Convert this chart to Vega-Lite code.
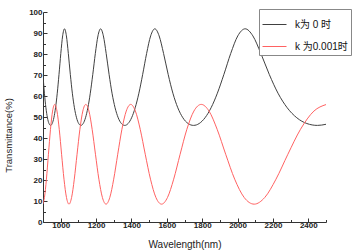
{
  "$schema": "https://vega.github.io/schema/vega-lite/v6.json",
  "width": 283,
  "height": 210,
  "autosize": {"type": "none"},
  "padding": {"left": 43, "top": 12, "right": 34, "bottom": 30},
  "background": "white",
  "config": {
    "view": {"stroke": null},
    "font": "Liberation Sans",
    "axis": {
      "grid": false,
      "domainColor": "#333333",
      "tickColor": "#333333",
      "domainWidth": 1,
      "tickWidth": 1,
      "labelColor": "#222222",
      "titleColor": "#222222",
      "labelFont": "Liberation Sans",
      "titleFont": "Liberation Sans",
      "labelFontSize": 8,
      "labelFontWeight": "bold",
      "titleFontSize": 10,
      "titleFontWeight": "normal"
    }
  },
  "data": {
    "values": [
      {"s": "k0", "wl": 900, "T": 69.91}, {"s": "k0", "wl": 908, "T": 61.33}, {"s": "k0", "wl": 916.5, "T": 54.4}, {"s": "k0", "wl": 925.1, "T": 49.63}, {"s": "k0", "wl": 933.9, "T": 46.89}, {"s": "k0", "wl": 942.9, "T": 46}, {"s": "k0", "wl": 952.1, "T": 46.89}, {"s": "k0", "wl": 961.4, "T": 49.63}, {"s": "k0", "wl": 970.9, "T": 54.4}, {"s": "k0", "wl": 980.6, "T": 61.33}, {"s": "k0", "wl": 990.5, "T": 70.3}, {"s": "k0", "wl": 1000.7, "T": 80.25}, {"s": "k0", "wl": 1011, "T": 88.63}, {"s": "k0", "wl": 1021.5, "T": 92}, {"s": "k0", "wl": 1032.3, "T": 88.63}, {"s": "k0", "wl": 1043.2, "T": 80.25}, {"s": "k0", "wl": 1054.5, "T": 70.3}, {"s": "k0", "wl": 1065.9, "T": 61.33}, {"s": "k0", "wl": 1077.6, "T": 54.4}, {"s": "k0", "wl": 1089.6, "T": 49.63}, {"s": "k0", "wl": 1101.8, "T": 46.89}, {"s": "k0", "wl": 1114.4, "T": 46}, {"s": "k0", "wl": 1127.2, "T": 46.89}, {"s": "k0", "wl": 1140.3, "T": 49.63}, {"s": "k0", "wl": 1153.7, "T": 54.4}, {"s": "k0", "wl": 1167.4, "T": 61.33}, {"s": "k0", "wl": 1181.5, "T": 70.3}, {"s": "k0", "wl": 1195.9, "T": 80.25}, {"s": "k0", "wl": 1210.7, "T": 88.63}, {"s": "k0", "wl": 1225.8, "T": 92}, {"s": "k0", "wl": 1241.3, "T": 88.63}, {"s": "k0", "wl": 1257.2, "T": 80.25}, {"s": "k0", "wl": 1273.6, "T": 70.3}, {"s": "k0", "wl": 1290.3, "T": 61.33}, {"s": "k0", "wl": 1307.5, "T": 54.4}, {"s": "k0", "wl": 1325.2, "T": 49.63}, {"s": "k0", "wl": 1343.3, "T": 46.89}, {"s": "k0", "wl": 1362, "T": 46}, {"s": "k0", "wl": 1381.2, "T": 46.89}, {"s": "k0", "wl": 1400.9, "T": 49.63}, {"s": "k0", "wl": 1421.2, "T": 54.4}, {"s": "k0", "wl": 1442.1, "T": 61.33}, {"s": "k0", "wl": 1463.6, "T": 70.3}, {"s": "k0", "wl": 1485.8, "T": 80.25}, {"s": "k0", "wl": 1508.7, "T": 88.63}, {"s": "k0", "wl": 1532.3, "T": 92}, {"s": "k0", "wl": 1556.6, "T": 88.63}, {"s": "k0", "wl": 1581.7, "T": 80.25}, {"s": "k0", "wl": 1607.6, "T": 70.3}, {"s": "k0", "wl": 1634.4, "T": 61.33}, {"s": "k0", "wl": 1662.1, "T": 54.4}, {"s": "k0", "wl": 1690.8, "T": 49.63}, {"s": "k0", "wl": 1720.4, "T": 46.89}, {"s": "k0", "wl": 1751.1, "T": 46}, {"s": "k0", "wl": 1783, "T": 46.89}, {"s": "k0", "wl": 1816, "T": 49.63}, {"s": "k0", "wl": 1850.3, "T": 54.4}, {"s": "k0", "wl": 1885.8, "T": 61.33}, {"s": "k0", "wl": 1922.8, "T": 70.3}, {"s": "k0", "wl": 1961.3, "T": 80.25}, {"s": "k0", "wl": 2001.3, "T": 88.63}, {"s": "k0", "wl": 2043, "T": 92}, {"s": "k0", "wl": 2086.5, "T": 88.63}, {"s": "k0", "wl": 2131.8, "T": 80.25}, {"s": "k0", "wl": 2179.2, "T": 70.3}, {"s": "k0", "wl": 2228.7, "T": 61.33}, {"s": "k0", "wl": 2280.6, "T": 54.4}, {"s": "k0", "wl": 2334.9, "T": 49.63}, {"s": "k0", "wl": 2391.8, "T": 46.89}, {"s": "k0", "wl": 2451.6, "T": 46}, {"s": "k0", "wl": 2500, "T": 46.53},
      {"s": "k001", "wl": 900, "T": 8.69}, {"s": "k001", "wl": 908.2, "T": 11.68}, {"s": "k001", "wl": 919.3, "T": 20.38}, {"s": "k001", "wl": 930.7, "T": 32.25}, {"s": "k001", "wl": 942.3, "T": 44.13}, {"s": "k001", "wl": 954.2, "T": 52.82}, {"s": "k001", "wl": 966.5, "T": 56}, {"s": "k001", "wl": 979, "T": 52.82}, {"s": "k001", "wl": 991.9, "T": 44.13}, {"s": "k001", "wl": 1005.1, "T": 32.25}, {"s": "k001", "wl": 1018.7, "T": 20.38}, {"s": "k001", "wl": 1032.7, "T": 11.68}, {"s": "k001", "wl": 1047, "T": 8.5}, {"s": "k001", "wl": 1061.7, "T": 11.68}, {"s": "k001", "wl": 1076.9, "T": 20.38}, {"s": "k001", "wl": 1092.5, "T": 32.25}, {"s": "k001", "wl": 1108.6, "T": 44.13}, {"s": "k001", "wl": 1125.1, "T": 52.82}, {"s": "k001", "wl": 1142.2, "T": 56}, {"s": "k001", "wl": 1159.8, "T": 52.82}, {"s": "k001", "wl": 1177.9, "T": 44.13}, {"s": "k001", "wl": 1196.6, "T": 32.25}, {"s": "k001", "wl": 1215.9, "T": 20.38}, {"s": "k001", "wl": 1235.8, "T": 11.68}, {"s": "k001", "wl": 1256.4, "T": 8.5}, {"s": "k001", "wl": 1277.7, "T": 11.68}, {"s": "k001", "wl": 1299.7, "T": 20.38}, {"s": "k001", "wl": 1322.5, "T": 32.25}, {"s": "k001", "wl": 1346.1, "T": 44.13}, {"s": "k001", "wl": 1370.6, "T": 52.82}, {"s": "k001", "wl": 1396, "T": 56}, {"s": "k001", "wl": 1422.3, "T": 52.82}, {"s": "k001", "wl": 1449.7, "T": 44.13}, {"s": "k001", "wl": 1478.1, "T": 32.25}, {"s": "k001", "wl": 1507.7, "T": 20.38}, {"s": "k001", "wl": 1538.4, "T": 11.68}, {"s": "k001", "wl": 1570.5, "T": 8.5}, {"s": "k001", "wl": 1603.9, "T": 11.68}, {"s": "k001", "wl": 1638.8, "T": 20.38}, {"s": "k001", "wl": 1675.2, "T": 32.25}, {"s": "k001", "wl": 1713.3, "T": 44.13}, {"s": "k001", "wl": 1753.1, "T": 52.82}, {"s": "k001", "wl": 1794.9, "T": 56}, {"s": "k001", "wl": 1838.6, "T": 52.82}, {"s": "k001", "wl": 1884.6, "T": 44.13}, {"s": "k001", "wl": 1932.9, "T": 32.25}, {"s": "k001", "wl": 1983.8, "T": 20.38}, {"s": "k001", "wl": 2037.4, "T": 11.68}, {"s": "k001", "wl": 2094, "T": 8.5}, {"s": "k001", "wl": 2153.8, "T": 11.68}, {"s": "k001", "wl": 2217.2, "T": 20.38}, {"s": "k001", "wl": 2284.4, "T": 32.25}, {"s": "k001", "wl": 2355.8, "T": 44.13}, {"s": "k001", "wl": 2431.7, "T": 52.82}, {"s": "k001", "wl": 2500, "T": 55.92}
    ]
  },
  "mark": {"type": "line", "interpolate": "monotone", "strokeWidth": 1, "clip": true},
  "encoding": {
    "x": {
      "field": "wl",
      "type": "quantitative",
      "scale": {"domain": [900, 2500], "nice": false, "zero": false},
      "axis": {
        "title": "Wavelength(nm)",
        "values": [900, 1000, 1100, 1200, 1300, 1400, 1500, 1600, 1700, 1800, 1900, 2000, 2100, 2200, 2300, 2400, 2500],
        "format": "d",
        "labelExpr": "datum.value % 200 == 0 ? datum.label : ''",
        "tickSize": {"condition": {"test": "datum.value % 200 == 0", "value": -4}, "value": -2.5},
        "labelPadding": 3.5,
        "titlePadding": 10
      }
    },
    "y": {
      "field": "T",
      "type": "quantitative",
      "scale": {"domain": [0, 100], "nice": false},
      "axis": {
        "title": "Transmittance(%)",
        "values": [0, 5, 10, 15, 20, 25, 30, 35, 40, 45, 50, 55, 60, 65, 70, 75, 80, 85, 90, 95, 100],
        "labelExpr": "datum.value % 10 == 0 ? datum.label : ''",
        "tickSize": {"condition": {"test": "datum.value % 10 == 0", "value": -4}, "value": -2.5},
        "labelPadding": 5,
        "titleX": -35,
        "titleY": 123,
        "titleBaseline": "middle",
        "titleFontSize": 9.5
      }
    },
    "color": {
      "field": "s",
      "type": "nominal",
      "scale": {"domain": ["k0", "k001"], "range": ["#404040", "#ff6262"]},
      "legend": {
        "title": null,
        "orient": "none",
        "legendX": 216,
        "legendY": -3,
        "labelExpr": "datum.value == 'k0' ? 'k为 0 时' : 'k 为0.001时'",
        "labelFont": "Liberation Sans, Noto Sans CJK SC",
        "labelFontSize": 10,
        "labelColor": "#111111",
        "symbolType": "stroke",
        "symbolSize": 576,
        "symbolStrokeWidth": 1,
        "strokeColor": "#888888",
        "fillColor": "white",
        "padding": 3,
        "rowPadding": 4,
        "labelOffset": 8
      }
    }
  }
}
